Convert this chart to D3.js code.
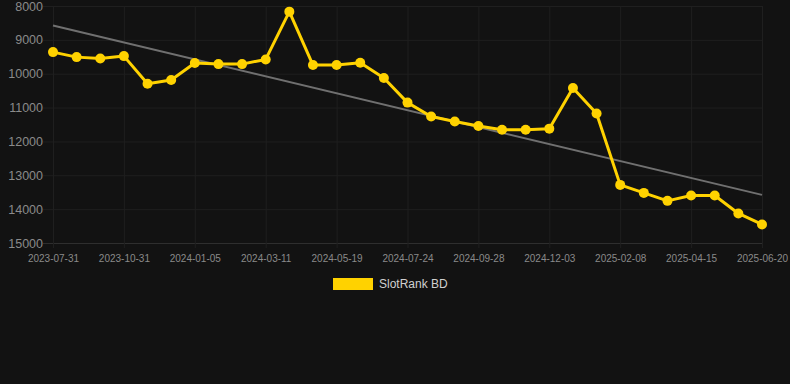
<!DOCTYPE html>
<html>
<head>
<meta charset="utf-8">
<script src="https://cdn.jsdelivr.net/npm/d3@7"></script>
<style>
html,body{margin:0;padding:0;background:#121212;}
svg{display:block;}
</style>
</head>
<body>
<svg id="chart" width="790" height="384"></svg>
<script>
// Data (estimated from reference)
const categories = [
  "2023-07-31","2023-08-31","2023-09-30","2023-10-31","2023-11-22","2023-12-14",
  "2024-01-05","2024-01-27","2024-02-18","2024-03-11","2024-04-03","2024-04-26",
  "2024-05-19","2024-06-09","2024-07-02","2024-07-24","2024-08-15","2024-09-06",
  "2024-09-28","2024-10-20","2024-11-11","2024-12-03","2024-12-25","2025-01-17",
  "2025-02-08","2025-03-02","2025-03-24","2025-04-15","2025-05-07","2025-05-29",
  "2025-06-20"
];
const rankValues = [
  9362, 9510, 9549, 9480, 10294, 10186, 9686, 9716, 9716, 9578,
  8167, 9745, 9745, 9676, 10127, 10853, 11265, 11412, 11544, 11657,
  11657, 11622, 10422, 11176, 13284, 13520, 13755, 13598, 13598, 14127,
  14451
];
const trendValues = [8578, 13578]; // trend line at first and last category
const yTicks = [8000, 9000, 10000, 11000, 12000, 13000, 14000, 15000];
const xTickLabels = ["2023-07-31","2023-10-31","2024-01-05","2024-03-11","2024-05-19",
  "2024-07-24","2024-09-28","2024-12-03","2025-02-08","2025-04-15","2025-06-20"];
const seriesName = "SlotRank BD";

const svg = d3.select("#chart");
const plotL = 53, plotR = 762, plotT = 6, plotB = 243;
const font = "'Liberation Sans', Arial, Helvetica, sans-serif";

const x = d3.scalePoint().domain(categories).range([plotL, plotR]);
const y = d3.scaleLinear().domain([8000, 15000]).range([plotT, plotB]);

// Horizontal grid + y labels
const yAxis = d3.axisLeft(y).tickValues(yTicks).tickSize(10).tickPadding(0).tickFormat(d3.format("d"));
const gy = svg.append("g").attr("transform", `translate(${plotL},0)`).call(yAxis);
gy.select(".domain").remove();
gy.selectAll(".tick line").attr("x1", -10).attr("x2", plotR - plotL).attr("stroke", "#1f1f1f").attr("stroke-width", 1);
gy.selectAll(".tick").filter(d => d === 15000).select("line").attr("stroke", "#2e2e2e");
gy.selectAll(".tick text").attr("x", -10).attr("fill", "#8a8a8a")
  .style("font-family", font).style("font-size", "12.5px").attr("dy", "0.32em");

// Vertical grid + x labels
const xAxis = d3.axisBottom(x).tickValues(xTickLabels).tickSize(0).tickPadding(0);
const gx = svg.append("g").attr("transform", `translate(0,${plotB})`).call(xAxis);
gx.select(".domain").remove();
gx.selectAll(".tick line").attr("y1", -(plotB - plotT)).attr("y2", 5).attr("stroke", "#1f1f1f").attr("stroke-width", 1);
gx.selectAll(".tick text").attr("y", 16).attr("dy", "0.32em").attr("fill", "#8a8a8a")
  .style("font-family", font).style("font-size", "10px");

// Trend line
svg.append("line")
  .attr("x1", x(categories[0])).attr("y1", y(trendValues[0]))
  .attr("x2", x(categories[categories.length - 1])).attr("y2", y(trendValues[1]))
  .attr("stroke", "#707070").attr("stroke-width", 2);

// Series line
const line = d3.line().x((d, i) => x(categories[i])).y(d => y(d));
svg.append("path").datum(rankValues).attr("d", line)
  .attr("fill", "none").attr("stroke", "#FFD200").attr("stroke-width", 3).attr("stroke-linejoin", "round");

svg.append("g").selectAll("circle").data(rankValues).join("circle")
  .attr("cx", (d, i) => x(categories[i])).attr("cy", d => y(d)).attr("r", 5)
  .attr("fill", "#FFD200");

// Legend
const lg = svg.append("g");
lg.append("rect").attr("x", 333).attr("y", 278).attr("width", 40).attr("height", 12).attr("fill", "#FFD200");
lg.append("text").attr("x", 379).attr("y", 284).attr("dy", "0.35em").attr("fill", "#d0d0d0")
  .style("font-family", font).style("font-size", "12px").text(seriesName);
</script>
</body>
</html>
